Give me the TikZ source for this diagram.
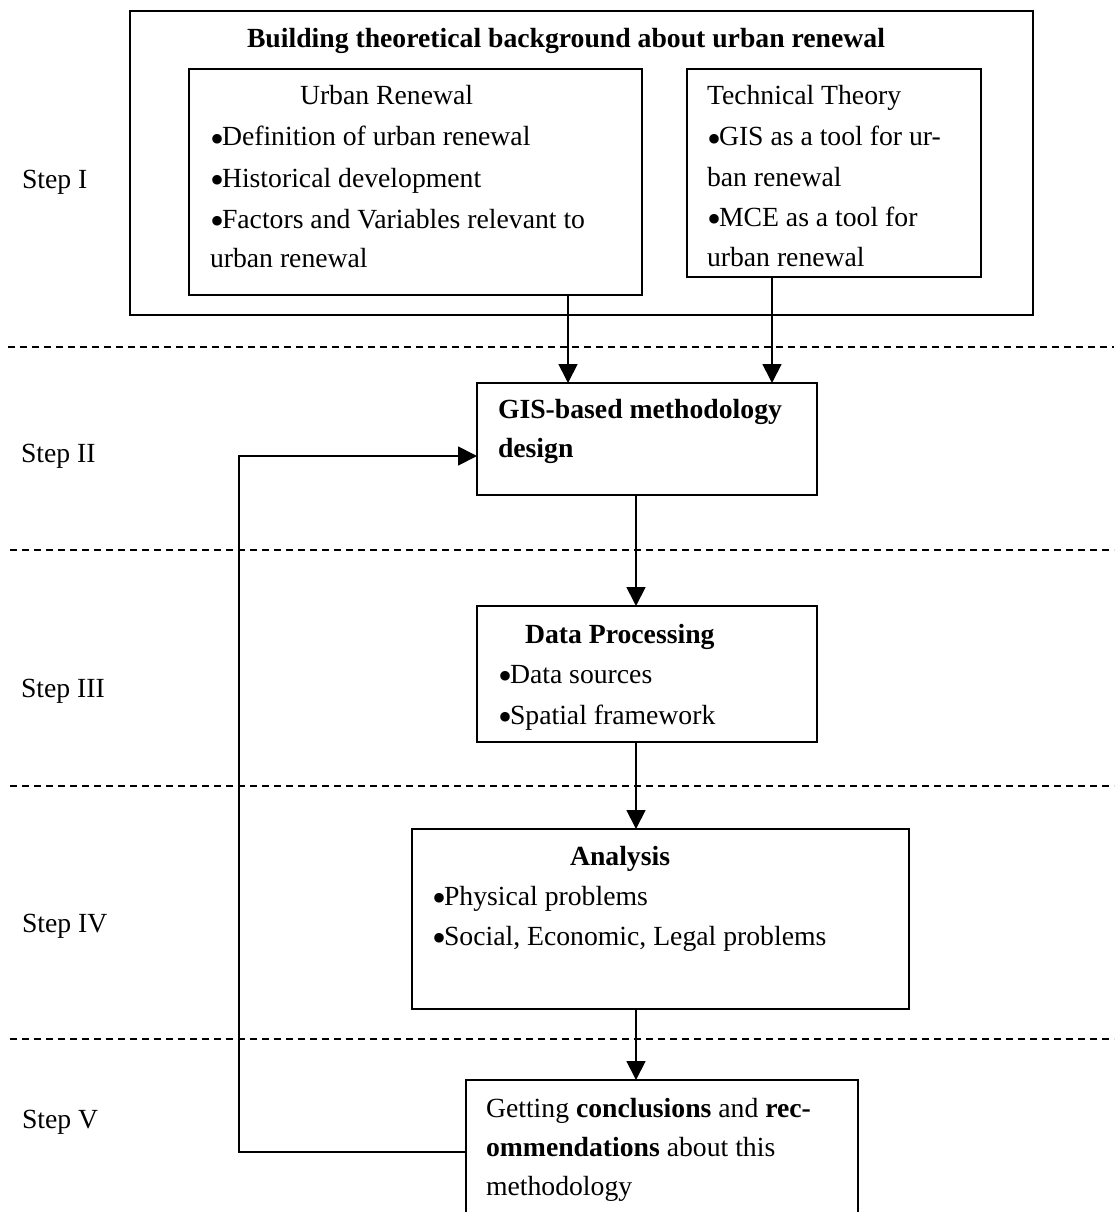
\documentclass[tikz,border=0pt]{standalone}
\usepackage{fontspec}
\setmainfont{Liberation Serif}
\usetikzlibrary{arrows.meta}
\newcommand{\bul}{\makebox[12pt][l]{\raisebox{-6pt}{\fontsize{40}{40}\selectfont •}}}
\begin{document}
\begin{tikzpicture}[x=1pt,y=-1pt,
  box/.style={draw,line width=1.8pt,inner sep=0pt,outer sep=0pt,anchor=north west},
  txt/.style={anchor=base west,inner sep=0pt,outer sep=0pt},
  arr/.style={line width=1.8pt,-{Triangle[width=19pt,length=19pt]}},
  sep/.style={line width=1.5pt,dash pattern=on 7pt off 5pt}]
\useasboundingbox (0,0) rectangle (1114,1212);
\clip (0,0) rectangle (1114,1212);
\fontsize{27.7}{40}\selectfont
% boxes
\node[box,minimum width=903pt,minimum height=304pt] (outer) at (130,11) {};
\node[box,minimum width=453pt,minimum height=226pt] (urban) at (189,69) {};
\node[box,minimum width=294pt,minimum height=208pt] (tech) at (687,69) {};
\node[box,minimum width=340pt,minimum height=112pt] (gis) at (477,383) {};
\node[box,minimum width=340pt,minimum height=136pt] (data) at (477,606) {};
\node[box,minimum width=497pt,minimum height=180pt] (anal) at (412,829) {};
\node[box,minimum width=392pt,minimum height=144pt] (concl) at (466,1080) {};
% dashed separators
\coordinate (d1a) at (8,347); \coordinate (d1b) at (1114,347);
\coordinate (d2a) at (10,550); \coordinate (d2b) at (1114,550);
\coordinate (d3a) at (10,786); \coordinate (d3b) at (1114,786);
\coordinate (d4a) at (10,1039); \coordinate (d4b) at (1114,1039);
\draw[sep] (d1a) -- (d1b);
\draw[sep] (d2a) -- (d2b);
\draw[sep] (d3a) -- (d3b);
\draw[sep] (d4a) -- (d4b);
% texts
\node[txt] (title) at (247,48) {\bfseries Building theoretical background about urban renewal};
\node[txt] (u0) at (300,105) {Urban Renewal};
\node[txt] (u1) at (210,146) {\bul Definition of urban renewal};
\node[txt] (u2) at (210,187) {\bul Historical development};
\node[txt] (u3) at (210,228) {\bul Factors and Variables relevant to};
\node[txt] (u4) at (210,267) {urban renewal};
\node[txt] (k0) at (707,105) {Technical Theory};
\node[txt] (k1) at (707,146) {\bul GIS as a tool for ur-};
\node[txt] (k2) at (707,186) {ban renewal};
\node[txt] (k3) at (707,226) {\bul MCE as a tool for};
\node[txt] (k4) at (707,266) {urban renewal};
\node[txt] (g0) at (498,418) {\bfseries GIS-based methodology};
\node[txt] (g1) at (498,457) {\bfseries design};
\node[txt] (p0) at (525,643) {\bfseries Data Processing};
\node[txt] (p1) at (498,683) {\bul Data sources};
\node[txt] (p2) at (498,724) {\bul Spatial framework};
\node[txt] (a0) at (570,865) {\bfseries Analysis};
\node[txt] (a1) at (432,905) {\bul Physical problems};
\node[txt] (a2) at (432,945) {\bul Social, Economic, Legal problems};
\node[txt] (c0) at (486,1117) {Getting \textbf{conclusions} and \textbf{rec-}};
\node[txt] (c1) at (486,1156) {\textbf{ommendations} about this};
\node[txt] (c2) at (486,1195) {methodology};
\node[txt] (s1) at (22,188) {Step I};
\node[txt] (s2) at (21,462) {Step II};
\node[txt] (s3) at (21,697) {Step III};
\node[txt] (s4) at (22,932) {Step IV};
\node[txt] (s5) at (22,1128) {Step V};
% connectors
\draw[arr] ([xshift=152.5pt]urban.south) coordinate (e1) -- (e1 |- gis.north);
\draw[arr] ([xshift=-62pt]tech.south) coordinate (e2) -- (e2 |- gis.north);
\draw[arr] ([xshift=-11pt]gis.south) coordinate (e3) -- (e3 |- data.north);
\draw[arr] ([xshift=-11pt]data.south) coordinate (e4) -- (e4 |- anal.north);
\draw[arr] ([xshift=-24.5pt]anal.south) coordinate (e5) -- (e5 |- concl.north);
\coordinate (fb) at (239,1152);
\draw[arr] (concl.west) -- (fb) |- ([yshift=-17pt]gis.west);
\end{tikzpicture}
\end{document}
